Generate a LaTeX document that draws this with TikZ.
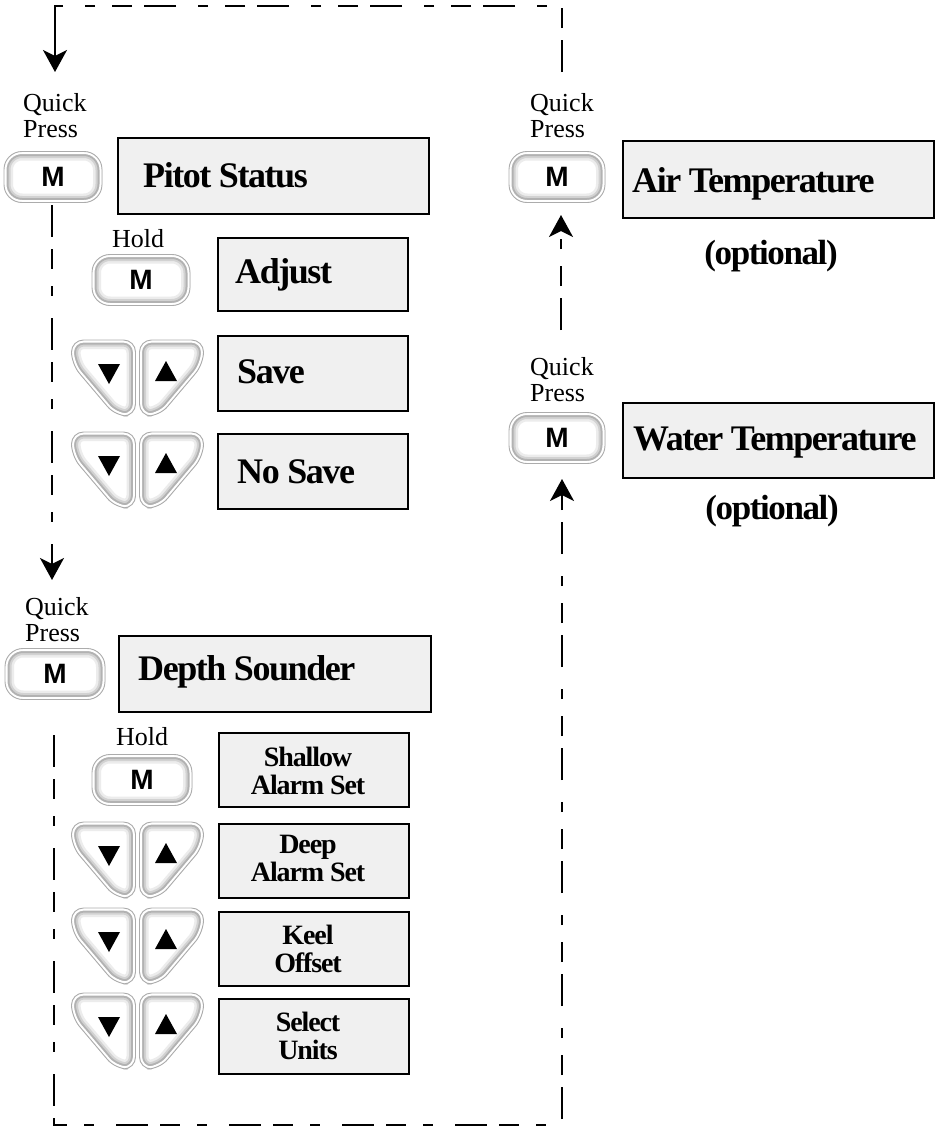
\documentclass[tikz,border=0pt]{standalone}
\usepackage{fontspec}
\setmainfont{Liberation Serif}
\newfontfamily\keyfont{Liberation Sans}
\newfontfamily\labelfont[LetterSpace=-4]{Liberation Serif}
\usetikzlibrary{arrows.meta}

\tikzset{
  panel/.style={draw=black, line width=2.4pt, fill=gray!12, rectangle, inner sep=0pt, anchor=north west},
  bigtext/.style={font=\labelfont\fontsize{36}{36}\bfseries, inner sep=0pt, anchor=base west},
  opttext/.style={font=\labelfont\fontsize{35}{35}\bfseries, inner sep=0pt, anchor=base},
  smalltext/.style={font=\labelfont\fontsize{28}{28}\bfseries, inner sep=0pt, anchor=base},
  qlabel/.style={font=\fontsize{26}{26}\selectfont, inner sep=0pt, align=left},
  mlabel/.style={font=\keyfont\fontsize{28}{28}\bfseries, inner sep=0pt},
  flow/.style={line width=2pt, dash pattern=on 32pt off 12pt on 20pt off 17pt on 10pt off 22pt},
  solidflow/.style={line width=2pt},
  arrowhead/.style={-{Stealth[length=22pt,width=24pt,inset=6pt]}}
}

% key face: outline, white gap, soft gray inner bevel
\newcommand\keyface[1]{%
  \fill[white] #1;
  \begin{scope}
    \clip #1;
    \draw[gray!15, line width=18pt] #1;
    \draw[gray!35, line width=13pt] #1;
    \draw[gray!60, line width=9pt] #1;
    \draw[white, line width=5pt] #1;
  \end{scope}
  \draw[gray!65, line width=0.9pt] #1;
}

% M key: name, x, y, width
\newcommand\mkey[4]{%
  \begin{scope}[shift={(#2,#3)}]
    \keyface{[rounded corners=18pt] (-#4/2,-25.5) rectangle (#4/2,25.5)}
    \node[mlabel] (#1) at (0,0) {M};
  \end{scope}}

% arrow key pair: name, x, y
\newcommand\arrowkeys[3]{%
  \begin{scope}[shift={(#2,#3)}]
    \keyface{[rounded corners=12pt] (-2,-38) -- (-66,-38) -- (-66,-14) -- (-22,38) -- (-2,38) -- cycle}
    \keyface{[rounded corners=12pt] (2,-38) -- (66,-38) -- (66,-14) -- (22,38) -- (2,38) -- cycle}
    \fill (-39.5,-14) -- (-17.5,-14) -- (-28.5,6) -- cycle;
    \fill (17.5,3) -- (39.5,3) -- (28.5,-17) -- cycle;
    \coordinate (#1) at (0,0);
  \end{scope}}

\begin{document}
\begin{tikzpicture}[x=1pt, y=-1pt]
\useasboundingbox (0,0) rectangle (939,1127);

% ---------------- Pitot Status ----------------
\node[qlabel, anchor=south west] (qp1) at (23,138) {Quick\\Press};
\mkey{pm}{53}{177}{98}
\node[panel, minimum width=311pt, minimum height=76pt] (pitot) at (117,137) {};
\node[bigtext] (pitott) at (143,187) {Pitot Status};

\node[qlabel, anchor=base] (hold1) at (138,247) {Hold};
\mkey{hm1}{141}{280}{98}
\node[panel, minimum width=190pt, minimum height=73pt] (adjust) at (217,237) {};
\node[bigtext] (adjustt) at (235,283) {Adjust};

\arrowkeys{ak1}{137.5}{378}
\node[panel, minimum width=190pt, minimum height=75pt] (save) at (217,335) {};
\node[bigtext] (savet) at (237,383) {Save};

\arrowkeys{ak2}{137.5}{470}
\node[panel, minimum width=190pt, minimum height=75pt] (nosave) at (217,433) {};
\node[bigtext] (nosavet) at (237,483) {No Save};

% ---------------- Depth Sounder ----------------
\node[qlabel, anchor=south west] (qp2) at (25,642) {Quick\\Press};
\mkey{dm}{55}{674}{100}
\node[panel, minimum width=312pt, minimum height=76pt] (depth) at (118,635) {};
\node[bigtext] (deptht) at (138,680) {Depth Sounder};

\node[qlabel, anchor=base] (hold2) at (142,745) {Hold};
\mkey{hm2}{142}{780}{100}
\node[panel, minimum width=190pt, minimum height=74pt] (shallow) at (218,732) {};
\node[smalltext] (shallowa) at (308,766) {Shallow};
\node[smalltext] (shallowb) at (308,794) {Alarm Set};

\arrowkeys{ak3}{137.5}{860}
\node[panel, minimum width=190pt, minimum height=74pt] (deep) at (218,823) {};
\node[smalltext] (deepa) at (308,853) {Deep};
\node[smalltext] (deepb) at (308,881) {Alarm Set};

\arrowkeys{ak4}{137.5}{946}
\node[panel, minimum width=190pt, minimum height=74pt] (keel) at (218,911) {};
\node[smalltext] (keela) at (308,944) {Keel};
\node[smalltext] (keelb) at (308,972) {Offset};

\arrowkeys{ak5}{137.5}{1031}
\node[panel, minimum width=190pt, minimum height=75pt] (select) at (218,998) {};
\node[smalltext] (selecta) at (308,1031) {Select};
\node[smalltext] (selectb) at (308,1059) {Units};

% ---------------- Air / Water ----------------
\node[qlabel, anchor=south west] (qp3) at (530,138) {Quick\\Press};
\mkey{am}{557}{177}{96}
\node[panel, minimum width=311pt, minimum height=77pt] (air) at (622,140) {};
\node[bigtext] (airt) at (632,192) {Air Temperature};
\node[opttext] (opt1) at (771,264) {(optional)};

\node[qlabel, anchor=south west] (qp4) at (530,402) {Quick\\Press};
\mkey{wm}{557}{438}{96}
\node[panel, minimum width=311pt, minimum height=75pt] (water) at (622,402) {};
\node[bigtext] (watert) at (633,450) {Water Temperature};
\node[opttext] (opt2) at (772,519) {(optional)};

% ---------------- connectors ----------------
% Air -> back to Pitot
\coordinate (a1) at (562,72);
\coordinate (a2) at (562,6);
\coordinate (a3) at (55,6);
\coordinate (a4) at (55,27);
\coordinate (a5) at (55,72);
\draw[flow] (a1) -- (a2) -- (a3) -- (a4);
\draw[solidflow, arrowhead] (a4) -- (a5);

% Pitot -> Depth
\coordinate (b1) at (52,205);
\coordinate (b2) at (52,580);
\draw[flow, arrowhead] (b1) -- (b2);

% Depth -> Water
\coordinate (c1) at (54,735);
\coordinate (c2) at (54,1125);
\coordinate (c3) at (562,1125);
\coordinate (c4) at (562,508);
\coordinate (c5) at (562,479);
\draw[flow] (c1) -- (c2) -- (c3) -- (c4);
\draw[solidflow, arrowhead] (c4) -- (c5);

% Water -> Air
\coordinate (d1) at (561,330);
\coordinate (d2) at (561,215);
\draw[flow, arrowhead] (d1) -- (d2);

\end{tikzpicture}
\end{document}
